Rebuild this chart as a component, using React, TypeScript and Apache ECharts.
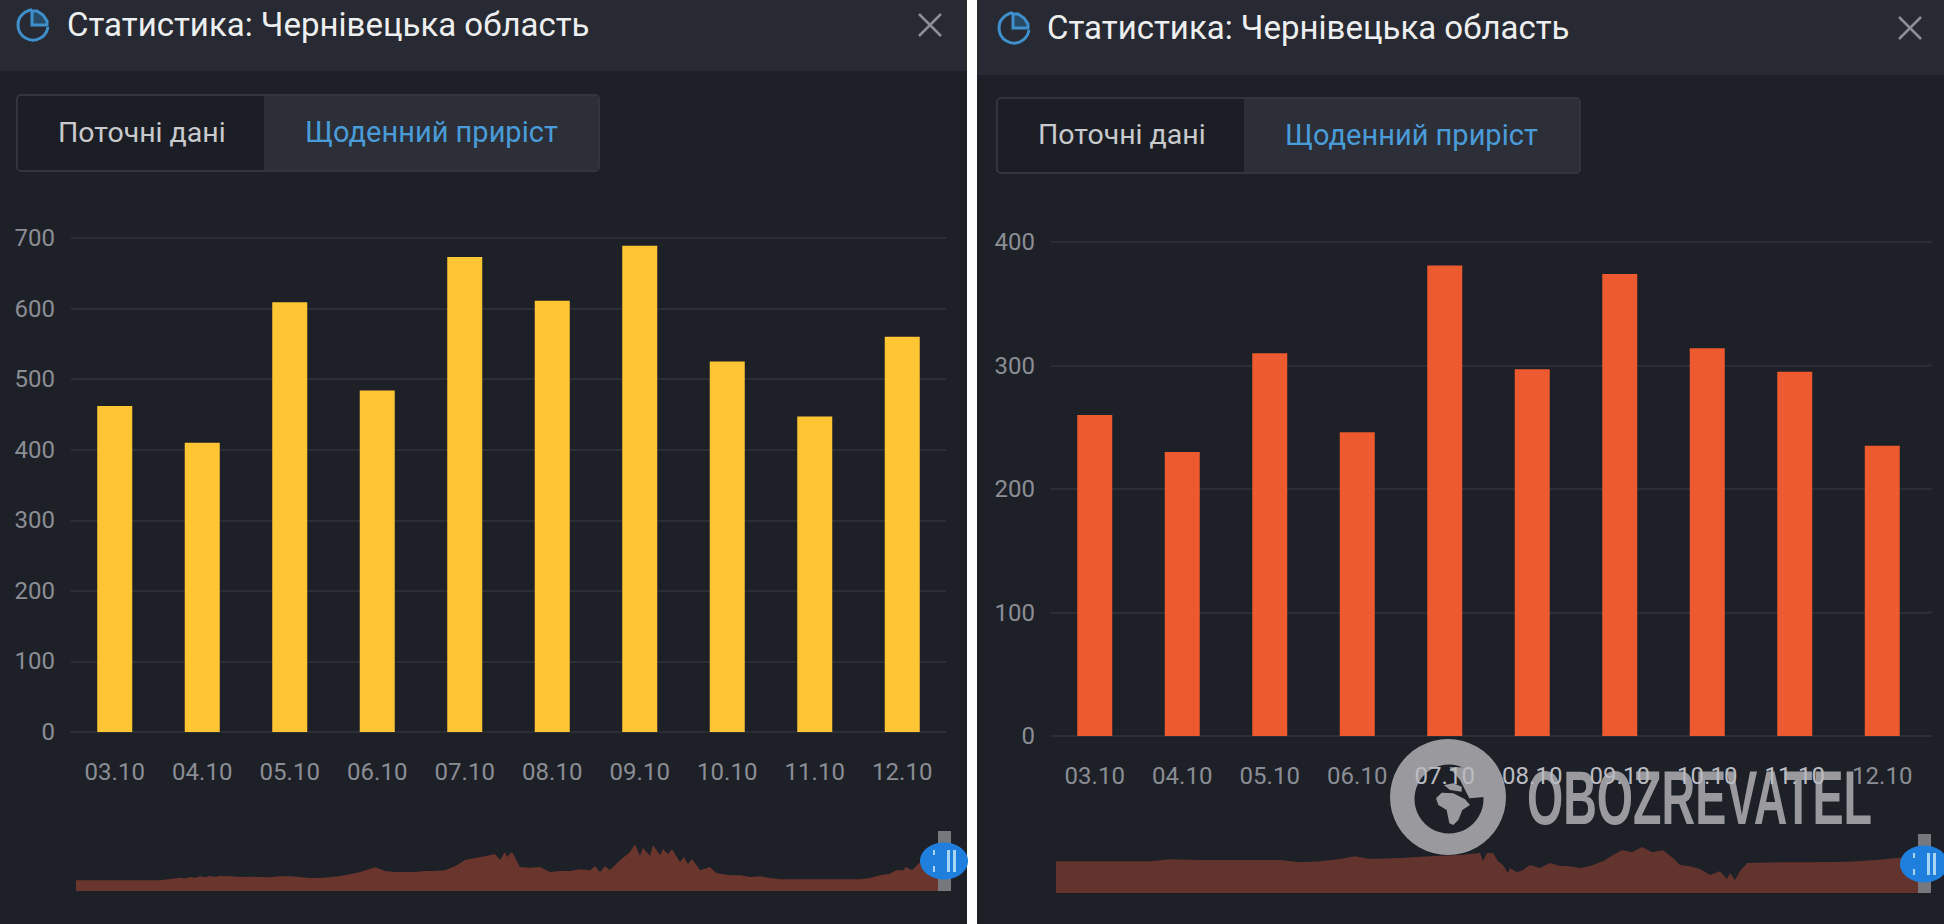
import React, { useEffect, useRef } from "react";
import * as echarts from "echarts";

const categories = ["03.10", "04.10", "05.10", "06.10", "07.10", "08.10", "09.10", "10.10", "11.10", "12.10"];
const leftValues = [462, 410, 609, 484, 673, 611, 689, 525, 447, 560];
const rightValues = [260, 230, 310, 246, 381, 297, 374, 314, 295, 235];

const leftSparkIndex = [0, 84, 94, 104, 109, 114, 119, 124, 129, 134, 139, 144, 154, 164, 174, 184, 194, 204, 214, 224, 234, 244, 254, 264, 274, 284, 294, 299, 309, 319, 329, 339, 349, 359, 369, 379, 389, 399, 409, 419, 424, 429, 431, 436, 444, 454, 464, 474, 484, 494, 504, 514, 519, 524, 529, 534, 544, 554, 559, 564, 567, 574, 577, 584, 587, 592, 596, 604, 608, 612, 616, 624, 634, 640, 654, 664, 674, 684, 694, 704, 784, 794, 804, 814, 820, 827, 830, 836, 842, 849, 869];
const leftSparkValues = [10.7, 10.7, 12, 13.3, 12.6, 14, 13.2, 14.7, 13.8, 15, 14, 15, 14.7, 14, 14.3, 14, 13.7, 14.7, 14.7, 14, 13, 13, 13.7, 15, 16.7, 19, 22, 23.7, 20, 19, 19, 19, 20, 20, 20.7, 24.7, 31, 33, 34.7, 37, 31, 39, 34, 39, 24, 23.3, 24, 19, 20, 20, 21.7, 20.7, 24.7, 19, 24.7, 21, 30.7, 39, 46.7, 35, 43, 35, 45.7, 36, 42, 37, 41.7, 29, 34, 27, 32, 20.7, 24, 18, 15.7, 15.7, 14, 14.7, 13, 11.7, 11.7, 13, 15.7, 17.3, 20.7, 20.7, 24, 20.7, 27, 32, 37];

const rightSparkIndex = [0, 94, 114, 144, 184, 224, 244, 264, 284, 299, 314, 344, 374, 404, 424, 427, 431, 437, 442, 447, 452, 454, 461, 467, 474, 484, 494, 504, 511, 524, 534, 547, 557, 566, 576, 586, 596, 607, 617, 624, 634, 644, 654, 664, 671, 674, 679, 684, 691, 724, 757, 791, 817, 841, 869];
const rightSparkValues = [31.7, 31.7, 33.7, 33, 33, 33, 30.7, 31.7, 34, 36.7, 34, 35, 36.7, 38, 40, 32, 40, 40, 31.7, 28, 20, 25, 20.7, 23, 28, 25, 30, 27, 27, 25, 27, 31.7, 38, 43, 40.7, 46, 40.7, 42.7, 35, 28, 26.7, 24, 18, 21.7, 14, 20, 13, 21.7, 30, 30.7, 30.7, 31.3, 32.7, 35, 37];

const yLeftTicks = 700;
const yRightTicks = 400;

const BG = "#1e2028";
const HEAD = "#272a32";
const GRID = "#2c2e36";
const LABEL = "#8b8d94";
const BLUE = "#4a9cd8";
const SANS = "Roboto, sans-serif";

const brightLabels = ["07.10", "08.10", "09.10", "10.10", "11.10"];

function panel(x0: number, w: number, headH: number, iconX: number, iconY: number, titleX: number, closeX: number, btnX: number, btnY: number, btnW: number, btnH: number, divX: number, txt1X: number, txt2X: number) {
  const closeY = iconY;
  const tcy = btnY + btnH / 2 - 1;
  return [
    { type: "rect", silent: true, z: -10, shape: { x: x0, y: 0, width: w, height: 924 }, style: { fill: BG } },
    { type: "rect", silent: true, z: -9, shape: { x: x0, y: 0, width: w, height: headH }, style: { fill: HEAD } },
    { type: "circle", silent: true, z: 1, shape: { cx: iconX, cy: iconY, r: 15 }, style: { fill: "none", stroke: "#3f8fcc", lineWidth: 3 } },
    { type: "rect", silent: true, z: 2, shape: { x: iconX - 1, y: iconY - 17, width: 19, height: 19 }, style: { fill: HEAD } },
    { type: "polygon", silent: true, z: 3, shape: { points: [[iconX - 1, iconY - 14], [iconX + 4, iconY - 14], [iconX + 10, iconY - 10], [iconX + 14, iconY - 4], [iconX + 14, iconY], [iconX - 1, iconY]] }, style: { fill: "#274a66", stroke: "#3f8fcc", lineWidth: 3 } },
    { type: "text", silent: true, z: 3, x: titleX - 1, y: iconY - 1, style: { text: "Статистика: Чернівецька область", fill: "#eeeff0", font: `400 33px ${SANS}`, textVerticalAlign: "middle" } },
    { type: "line", silent: true, z: 3, shape: { x1: closeX - 11, y1: closeY - 11, x2: closeX + 11, y2: closeY + 11 }, style: { stroke: "#8d8f95", lineWidth: 2.5 } },
    { type: "line", silent: true, z: 3, shape: { x1: closeX + 11, y1: closeY - 11, x2: closeX - 11, y2: closeY + 11 }, style: { stroke: "#8d8f95", lineWidth: 2.5 } },
    { type: "rect", silent: true, z: 1, shape: { x: btnX, y: btnY, width: btnW, height: btnH, r: 4 }, style: { fill: "#1c1e25", stroke: "#3a3c44", lineWidth: 1.5 } },
    { type: "rect", silent: true, z: 2, shape: { x: divX, y: btnY + 1, width: btnX + btnW - divX - 1, height: btnH - 2, r: [0, 3, 3, 0] }, style: { fill: "#2c2f38" } },
    { type: "text", silent: true, z: 3, x: txt1X, y: tcy, style: { text: "Поточні дані", fill: "#c9cacd", font: `400 28.5px ${SANS}`, textVerticalAlign: "middle" } },
    { type: "text", silent: true, z: 3, x: txt2X, y: tcy, style: { text: "Щоденний приріст", fill: BLUE, font: `400 29px ${SANS}`, textVerticalAlign: "middle" } },
  ];
}

function handle(cx: number, cy: number, top: number, bottom: number) {
  return [
    { type: "rect", silent: true, z: 5, shape: { x: cx - 6, y: top, width: 13, height: bottom - top }, style: { fill: "#77787e" } },
    { type: "ellipse", silent: true, z: 6, shape: { cx, cy, rx: 24, ry: 18.5 }, style: { fill: "#1f7fdc" } },
    { type: "rect", silent: true, z: 7, shape: { x: cx - 11, y: cy - 11, width: 2, height: 5 }, style: { fill: "#a8d4f6" } },
    { type: "rect", silent: true, z: 7, shape: { x: cx - 11, y: cy + 5, width: 2, height: 6 }, style: { fill: "#a8d4f6" } },
    { type: "rect", silent: true, z: 7, shape: { x: cx + 3, y: cy - 11, width: 3, height: 22 }, style: { fill: "#a8d4f6" } },
    { type: "rect", silent: true, z: 7, shape: { x: cx + 9, y: cy - 11, width: 3, height: 22 }, style: { fill: "#a8d4f6" } },
  ];
}

const WM = "#9a9a9e";
function pts(list: number[][]) {
  return list.map(([px, py]) => [1370 + px / 3, 730 + py / 3]);
}
function watermark() {
  return [
    { type: "circle", silent: true, z: -2, shape: { cx: 1448, cy: 797, r: 58 }, style: { fill: WM } },
    { type: "circle", silent: true, z: -2, shape: { cx: 1449, cy: 799, r: 34.5 }, style: { fill: BG } },
    { type: "polygon", silent: true, z: -2, shape: { points: pts([[238, 112], [350, 112], [350, 200], [318, 203], [298, 205], [288, 185], [270, 150]]) }, style: { fill: WM } },
    { type: "polygon", silent: true, z: -2, shape: { points: pts([[198, 205], [215, 188], [250, 190], [285, 208], [300, 225], [277, 240], [265, 270], [250, 285], [238, 280], [230, 240], [205, 225]]) }, style: { fill: WM } },
    { type: "polygon", silent: true, z: -2, shape: { points: pts([[222, 165], [250, 160], [275, 170], [275, 185], [240, 180]]) }, style: { fill: WM } },
    { type: "text", silent: true, z: -2, x: 1527, y: 797.5, scaleX: 0.613, style: { text: "OBOZREVATEL", fill: WM, font: `700 76px 'Liberation Sans Narrow', 'Liberation Sans', sans-serif`, textVerticalAlign: "middle" } },
  ];
}

function gridEnds() {
  return [0, 1, 2, 3, 4].map((k) => ({
    type: "line", silent: true, z: -1,
    shape: { x1: 1926, y1: 242 + k * 123.5, x2: 1932, y2: 242 + k * 123.5 },
    style: { stroke: GRID, lineWidth: 2 },
  }));
}

const option = {
  animation: false,
  backgroundColor: "#ffffff",
  graphic: {
    elements: [
      ...panel(0, 967, 71, 33, 25, 68, 930, 17, 95, 582, 76, 264, 58, 305),
      ...panel(977, 967, 75, 1014, 28, 1048, 1910, 997, 98, 583, 75, 1244, 1038, 1285),
      ...watermark(),
      ...gridEnds(),
      ...handle(944, 861, 831, 891),
      ...handle(1924, 864, 834, 893),
    ],
  },
  grid: [
    { left: 71, top: 238, width: 875, height: 494 },
    { left: 1051, top: 242, width: 875, height: 494 },
    { left: 76, top: 841, width: 869, height: 50 },
    { left: 1056, top: 843, width: 869, height: 50 },
  ],
  xAxis: [0, 1].map((i) => ({
    type: "category",
    gridIndex: i,
    data: categories,
    axisLine: { lineStyle: { color: GRID, width: 2 } },
    axisTick: { show: false },
    axisLabel: {
      margin: 28,
      fontFamily: SANS,
      fontSize: 24,
      color: (v: string) => (i === 1 && brightLabels.includes(v) ? "#babcc2" : LABEL),
    },
  })).concat([2, 3].map((i) => ({
    type: "value",
    gridIndex: i,
    min: 0,
    max: 869,
    show: false,
  })) as any),
  yAxis: [
    [0, yLeftTicks],
    [1, yRightTicks],
  ].map(([i, max]) => ({
    type: "value",
    gridIndex: i,
    min: 0,
    max,
    interval: 100,
    axisLine: { show: false },
    axisTick: { show: false },
    splitLine: { lineStyle: { color: GRID, width: 2 } },
    axisLabel: { margin: 16, fontFamily: SANS, fontSize: 24, color: LABEL },
  })).concat([2, 3].map((i) => ({
    type: "value",
    gridIndex: i,
    min: 0,
    max: 50,
    show: false,
  })) as any),
  series: [
    { type: "bar", xAxisIndex: 0, yAxisIndex: 0, data: leftValues, barWidth: 35, itemStyle: { color: "#ffc533" } },
    { type: "bar", xAxisIndex: 1, yAxisIndex: 1, data: rightValues, barWidth: 35, itemStyle: { color: "#ee5a2f" } },
    {
      type: "line", xAxisIndex: 2, yAxisIndex: 2, showSymbol: false, silent: true,
      data: leftSparkIndex.map((x, k) => [x, leftSparkValues[k]]),
      lineStyle: { width: 0 }, areaStyle: { color: "#6a352d", opacity: 1 },
    },
    {
      type: "line", xAxisIndex: 3, yAxisIndex: 3, showSymbol: false, silent: true,
      data: rightSparkIndex.map((x, k) => [x, rightSparkValues[k]]),
      lineStyle: { width: 0 }, areaStyle: { color: "#63332d", opacity: 1 },
    },
  ],
};

export default function App() {
  const ref = useRef<HTMLDivElement>(null);
  useEffect(() => {
    document.body.style.margin = "0";
    const chart = echarts.init(ref.current!, undefined, { renderer: "svg" });
    chart.setOption(option as any);
    return () => chart.dispose();
  }, []);
  return <div ref={ref} style={{ width: 1944, height: 924 }} />;
}
